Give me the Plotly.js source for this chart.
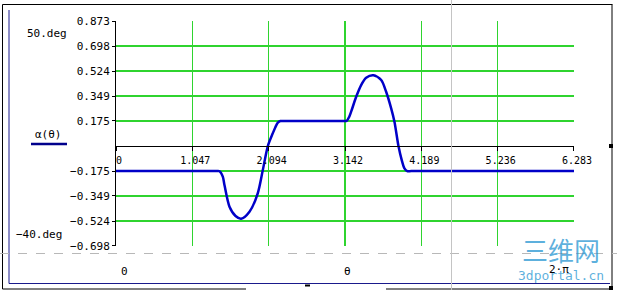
<!DOCTYPE html>
<html>
<head>
<meta charset="utf-8">
<script src="https://cdn.plot.ly/plotly-3.0.1.min.js"></script>
<style>html,body{margin:0;padding:0;background:#fff;}#chart{width:617px;height:290px;}</style>
</head>
<body>
<div id="chart"></div>
<script>
// ---- data ----
const theta = [0, 0.7, 1.2, 1.38, 1.42, 1.465, 1.488, 1.557, 1.64, 1.717, 1.831, 1.945, 2.014, 2.083, 2.151, 2.185, 2.22, 2.255,
               2.3, 2.7, 3.1, 3.165, 3.2, 3.226, 3.295, 3.363, 3.432, 3.532, 3.638, 3.706, 3.775, 3.82, 3.875, 3.92, 3.957, 3.995,
               4.05, 4.6, 5.5, 6.283];
const alpha = [-0.175, -0.175, -0.175, -0.175, -0.176, -0.214, -0.272, -0.424, -0.489, -0.508, -0.459, -0.33, -0.168, 0.0, 0.089, 0.13, 0.163, 0.175,
               0.175, 0.175, 0.175, 0.176, 0.205, 0.24, 0.344, 0.426, 0.477, 0.494, 0.461, 0.379, 0.263, 0.17, 0.0, -0.098, -0.156, -0.175,
               -0.175, -0.175, -0.175, -0.175];
const xTickVals = [0, 1.047, 2.094, 3.142, 4.189, 5.236, 6.283];
const xTickText = ["0", "1.047", "2.094", "3.142", "4.189", "5.236", "6.283"];
const yTickVals = [-0.698, -0.524, -0.349, -0.175, 0.175, 0.349, 0.524, 0.698, 0.873];
const yTickText = ["\u22120.698", "\u22120.524", "\u22120.349", "\u22120.175", "0.175", "0.349", "0.524", "0.698", "0.873"];
const yMaxLabel = "50.deg";
const yMinLabel = "\u221240.deg";
const traceName = "\u03b1(\u03b8)";
const xVarLabel = "\u03b8";
const xMinLabel = "0";
const xMaxLabel = "2\u00b7\u03c0";

// ---- geometry helpers (pixel -> paper) ----
const L = 116, T = 21, W = 458, H = 225;
const px = x => (x - L) / W;
const py = y => (T + H - y) / H;
const mono = "DejaVu Sans Mono, monospace";
const green = "#2fd42f";

function line(x0, y0, x1, y1, color, width, dash) {
  return {type: "line", xref: "paper", yref: "paper", x0: px(x0), y0: py(y0), x1: px(x1), y1: py(y1),
          line: {color: color, width: width, dash: dash || "solid"}};
}
function rect(x0, y0, x1, y1, color) {
  return {type: "rect", xref: "paper", yref: "paper", x0: px(x0), y0: py(y0), x1: px(x1), y1: py(y1),
          line: {width: 0}, fillcolor: color};
}
function txt(text, x, y, xanchor, size, color, family) {
  return {text: text, xref: "paper", yref: "paper", x: px(x), y: py(y), xanchor: xanchor, yanchor: "middle",
          showarrow: false, font: {family: family || mono, size: size, color: color || "#000"}};
}

const trace = {
  x: theta, y: alpha, type: "scatter", mode: "lines",
  line: {color: "#0000c8", width: 2.5, shape: "spline", smoothing: 0.8},
  hoverinfo: "skip"
};

const layout = {
  width: 617, height: 290,
  margin: {l: L, r: 617 - L - W, t: T, b: 290 - T - H, pad: 0},
  paper_bgcolor: "#fff", plot_bgcolor: "#fff",
  showlegend: false,
  xaxis: {
    range: [0, 2 * Math.PI], tickmode: "array", tickvals: xTickVals, ticktext: xTickText,
    showgrid: true, gridcolor: green, gridwidth: 1.5, zeroline: false,
    showline: true, linecolor: "#000", linewidth: 1,
    anchor: "free", position: 100 / 225,
    ticks: "outside", ticklen: 4, tickcolor: "#000", tickwidth: 1,
    ticklabelshift: 3, ticklabelstandoff: 1,
    tickfont: {family: mono, size: 10, color: "#000"}, fixedrange: true
  },
  yaxis: {
    range: [-0.6985, 0.8735], tickmode: "array", tickvals: yTickVals, ticktext: yTickText,
    showgrid: true, gridcolor: green, gridwidth: 1.5,
    zeroline: true, zerolinecolor: "#000", zerolinewidth: 1,
    showline: true, linecolor: "#000", linewidth: 1,
    ticks: "outside", ticklen: 3, tickcolor: "#000", tickwidth: 1,
    tickfont: {family: mono, size: 11, color: "#000"}, fixedrange: true
  },
  shapes: [
    // outer black frame
    line(2.5, 4.5, 612.5, 4.5, "#000", 1),
    line(2.5, 4.5, 2.5, 289, "#000", 1),
    line(612, 4.5, 612, 289, "#000", 1),
    line(2.5, 289, 246, 289, "#000", 1),
    line(386, 289, 612, 289, "#000", 1),
    rect(305, 284.5, 310, 286.5, "#000"),
    rect(609, 144, 613, 148, "#000"),
    rect(609, 286, 613, 290, "#000"),
    // inner navy frame
    line(9, 10, 9, 283.5, "#1a1a8c", 1),
    line(9, 283.5, 610, 283.5, "#1a1a8c", 1),
    // gray guides
    line(0, 253.5, 617, 253.5, "#b8b8b8", 1, "dash"),
    line(451.5, 0, 451.5, 290, "#c4c4c4", 1),
    // legend line sample
    line(31, 144, 67, 144, "#00008c", 2.5)
  ],
  annotations: [
    txt(yMaxLabel, 25, 33, "left", 11),
    txt(yMinLabel, 14, 234, "left", 11),
    txt(traceName, 33, 134, "left", 11),
    txt(xMinLabel, 119, 271, "left", 11),
    txt(xVarLabel, 347, 271, "center", 11),
    txt(xMaxLabel, 547, 269, "left", 11),
    txt("\u4e09\u7ef4\u7f51", 561, 250, "center", 26, "rgba(40,150,210,0.75)", "Noto Sans CJK SC"),
    txt("3dportal.cn", 561, 275, "center", 13, "rgba(40,150,210,0.75)", "DejaVu Sans Mono")
  ]
};

Plotly.newPlot("chart", [trace], layout, {staticPlot: true, displayModeBar: false});
</script>
</body>
</html>
